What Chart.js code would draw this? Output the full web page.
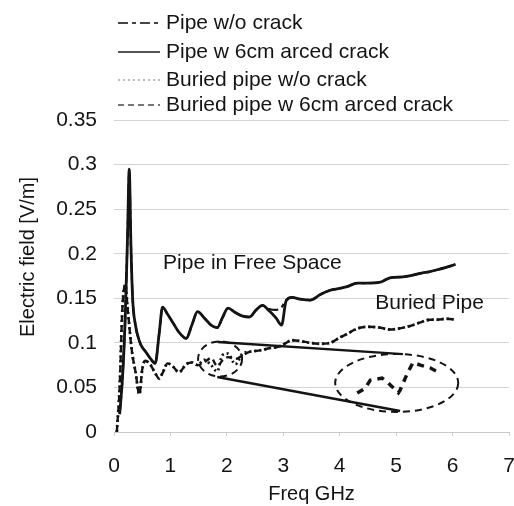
<!DOCTYPE html>
<html>
<head>
<meta charset="utf-8">
<script src="https://cdn.jsdelivr.net/npm/chart.js@4.4.1/dist/chart.umd.min.js"></script>
<style>
  html, body { margin: 0; padding: 0; background: #fff; }
</style>
</head>
<body>
<canvas id="fieldChart" width="514" height="506"></canvas>
<script>
// frequency samples (GHz), shared by all four curves
const freq = [0.05, 0.1, 0.15, 0.2, 0.24, 0.27, 0.3, 0.33, 0.38, 0.45,
  0.5, 0.55, 0.65, 0.73, 0.8, 0.86, 0.95, 1.05, 1.15, 1.28,
  1.38, 1.48, 1.6, 1.72, 1.83, 1.92, 2.02, 2.15, 2.28, 2.4,
  2.52, 2.63, 2.75, 2.87, 2.97, 3.05, 3.15, 3.3, 3.48, 3.65,
  3.83, 4.0, 4.13, 4.31, 4.49, 4.72, 4.89, 5.12, 5.3, 5.43,
  5.6, 5.73, 5.9, 6.05];

const pipeNoCrack = [null, 0.02, 0.06, 0.13, 0.22, 0.29, 0.21, 0.15, 0.12, 0.102,
  0.095, 0.091, 0.082, 0.077, 0.11, 0.14, 0.132, 0.122, 0.112, 0.105,
  0.12, 0.135, 0.128, 0.12, 0.117, 0.128, 0.139, 0.134, 0.13, 0.129,
  0.137, 0.142, 0.138, 0.137, 0.14, 0.148, 0.151, 0.149, 0.148, 0.154,
  0.159, 0.161, 0.163, 0.167, 0.167, 0.168, 0.173, 0.174, 0.176, 0.178,
  0.18, 0.182, 0.185, 0.188];

const pipeCrack = [null, 0.02, 0.06, 0.13, 0.22, 0.295, 0.21, 0.15, 0.12, 0.102,
  0.095, 0.091, 0.082, 0.077, 0.11, 0.14, 0.132, 0.122, 0.112, 0.105,
  0.12, 0.135, 0.128, 0.12, 0.117, 0.128, 0.139, 0.134, 0.13, 0.129,
  0.137, 0.142, 0.136, 0.128, 0.12, 0.147, 0.151, 0.149, 0.148, 0.154,
  0.159, 0.161, 0.163, 0.167, 0.167, 0.168, 0.173, 0.174, 0.176, 0.178,
  0.18, 0.182, 0.185, 0.188];

const buriedNoCrack = [0.0, 0.05, 0.14, 0.165, 0.14, 0.12, 0.1, 0.085, 0.068, 0.042,
  0.07, 0.08, 0.075, 0.066, 0.06, 0.066, 0.077, 0.073, 0.067, 0.076,
  0.078, 0.075, 0.081, 0.075, 0.068, 0.086, 0.088, 0.076, 0.088, 0.09,
  0.091, 0.092, 0.094, 0.095, 0.097, 0.1, 0.103, 0.102, 0.1, 0.099,
  0.1, 0.106, 0.11, 0.116, 0.118, 0.117, 0.115, 0.117, 0.12, 0.123,
  0.126, 0.126, 0.127, 0.126];

const buriedCrack = [0.0, 0.05, 0.14, 0.165, 0.14, 0.12, 0.1, 0.085, 0.068, 0.042,
  0.07, 0.08, 0.075, 0.066, 0.06, 0.066, 0.077, 0.073, 0.067, 0.076,
  0.078, 0.075, 0.078, 0.083, 0.074, 0.08, 0.084, 0.082, 0.086, 0.09,
  0.091, 0.092, 0.094, 0.095, 0.097, 0.1, 0.103, 0.102, 0.1, 0.099,
  0.1, 0.106, 0.11, 0.116, 0.118, 0.117, 0.115, 0.117, 0.12, 0.123,
  0.126, 0.126, 0.127, 0.126];

const seriesNames = ['Pipe w/o crack', 'Pipe w 6cm arced crack',
  'Buried pipe w/o crack', 'Buried pipe w 6cm arced crack'];
const xTickLabels = ['0', '1', '2', '3', '4', '5', '6', '7'];
const yTickLabels = ['0', '0.05', '0.1', '0.15', '0.2', '0.25', '0.3', '0.35'];
const xTitle = 'Freq GHz';
const yTitle = 'Electric field [V/m]';

// text notes and the zoom-in sketch, in data units
const noteText = ['Pipe in Free Space', 'Buried Pipe'];
const noteAt = [[0.87, 0.189], [4.63, 0.1446]];
const zoomEllipses = [[1.88, 0.082, 0.39, 0.0197], [5.01, 0.055, 1.09, 0.0325]];
const zoomLines = [[1.84, 0.1009, 5.12, 0.0874], [1.83, 0.0617, 5.07, 0.0235]];
const insetCurve = [[4.31, 0.0437], [4.45, 0.049], [4.54, 0.058], [4.75, 0.0605],
  [4.86, 0.055], [5.04, 0.044], [5.07, 0.047], [5.2, 0.066], [5.3, 0.078],
  [5.43, 0.075], [5.6, 0.072], [5.78, 0.066]];

const FONT = '"Liberation Sans", Arial, sans-serif';
const INK = '#141414';

function pts(ys) {
  return freq.map((f, i) => ({ x: f, y: ys[i] }));
}

const styles = [
  { dash: [10, 4, 4, 4], width: 2.2, legendColor: '#444' },
  { dash: [], width: 2.8, legendColor: '#555' },
  { dash: [2, 3], width: 2.8, legendColor: '#bbb' },
  { dash: [6, 4], width: 2.4, legendColor: '#777' }
];
const seriesData = [pipeNoCrack, pipeCrack, buriedNoCrack, buriedCrack];

const datasets = seriesData.map((ys, i) => ({
  label: seriesNames[i],
  data: pts(ys),
  borderColor: INK,
  borderWidth: styles[i].width,
  borderDash: styles[i].dash,
  pointRadius: 0,
  fill: false,
  cubicInterpolationMode: 'monotone',
  order: i < 2 ? 0 : 1
}));

const extras = {
  id: 'extras',
  afterDatasetsDraw(chart) {
    const ctx = chart.ctx;
    const xs = chart.scales.x, ys = chart.scales.y;
    const px = v => xs.getPixelForValue(v);
    const py = v => ys.getPixelForValue(v);
    ctx.save();
    ctx.strokeStyle = INK;

    // dashed ellipses
    ctx.lineWidth = 2;
    ctx.setLineDash([7, 5]);
    zoomEllipses.forEach(e => {
      ctx.beginPath();
      ctx.ellipse(px(e[0]), py(e[1]), px(e[0] + e[2]) - px(e[0]),
        py(e[1]) - py(e[1] + e[3]), 0, 0, Math.PI * 2);
      ctx.stroke();
    });

    // connector lines
    ctx.setLineDash([]);
    ctx.lineWidth = 2.4;
    zoomLines.forEach(l => {
      ctx.beginPath();
      ctx.moveTo(px(l[0]), py(l[1]));
      ctx.lineTo(px(l[2]), py(l[3]));
      ctx.stroke();
    });

    // magnified piece inside the big ellipse
    ctx.lineWidth = 3.5;
    ctx.setLineDash([7, 6]);
    ctx.beginPath();
    insetCurve.forEach((p, i) => {
      if (i === 0) ctx.moveTo(px(p[0]), py(p[1]));
      else ctx.lineTo(px(p[0]), py(p[1]));
    });
    ctx.stroke();

    // notes
    ctx.setLineDash([]);
    ctx.fillStyle = INK;
    ctx.font = '21px ' + FONT;
    ctx.textBaseline = 'middle';
    ctx.textAlign = 'left';
    noteText.forEach((t, i) => ctx.fillText(t, px(noteAt[i][0]), py(noteAt[i][1])));

    // legend, stacked top-left
    const rows = [23, 52, 80, 105];
    seriesNames.forEach((name, i) => {
      ctx.strokeStyle = styles[i].legendColor;
      ctx.lineWidth = 2;
      ctx.setLineDash(styles[i].dash);
      ctx.beginPath();
      ctx.moveTo(118, rows[i]);
      ctx.lineTo(160, rows[i]);
      ctx.stroke();
      ctx.fillStyle = INK;
      ctx.fillText(name, 166, rows[i]);
    });

    // y axis title, sitting a bit above the middle as in the original
    ctx.translate(28, 257);
    ctx.rotate(-Math.PI / 2);
    ctx.textAlign = 'center';
    ctx.font = '20px ' + FONT;
    ctx.fillText(yTitle, 0, 0);
    ctx.restore();
  }
};

new Chart(document.getElementById('fieldChart'), {
  type: 'line',
  data: { datasets: datasets },
  plugins: [extras],
  options: {
    responsive: false,
    devicePixelRatio: 1,
    animation: false,
    layout: { padding: { top: 120, right: 5, left: 0, bottom: 0 } },
    plugins: { legend: { display: false }, tooltip: { enabled: false } },
    scales: {
      x: {
        type: 'linear',
        min: 0,
        max: 7,
        ticks: {
          stepSize: 1,
          padding: 18,
          color: INK,
          font: { family: FONT, size: 21 },
          callback: (v, i) => xTickLabels[i]
        },
        grid: { drawOnChartArea: false, drawTicks: true, tickLength: 4, color: '#cfcfcf' },
        border: { color: '#c8c8c8' },
        title: {
          display: true,
          text: xTitle,
          color: INK,
          font: { family: FONT, size: 20 },
          padding: { top: 0, bottom: 0 }
        },
        afterFit(scale) {
          scale.height = 74;
          scale.paddingRight = 0;
          scale.paddingLeft = 0;
        }
      },
      y: {
        min: 0,
        max: 0.35,
        ticks: {
          stepSize: 0.05,
          padding: 17,
          color: INK,
          font: { family: FONT, size: 21 },
          callback: (v, i) => yTickLabels[i]
        },
        grid: { color: '#d4d4d4', drawTicks: false },
        border: { display: false },
        afterFit(scale) {
          scale.width = 114;
        }
      }
    }
  }
});
</script>
</body>
</html>
